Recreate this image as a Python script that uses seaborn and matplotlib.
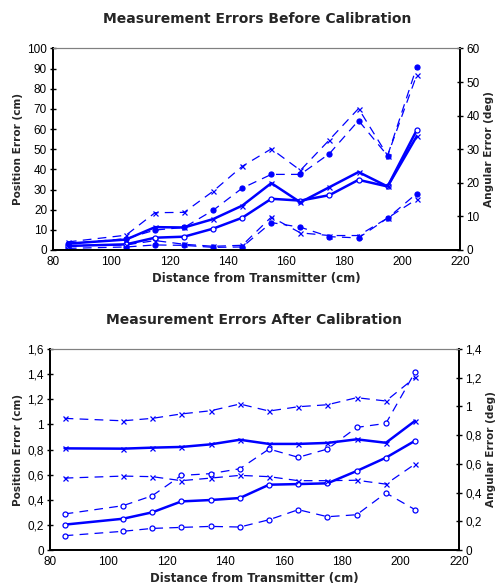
import matplotlib
matplotlib.use("Agg")
import matplotlib.pyplot as plt
import seaborn as sns
import numpy as np
from matplotlib.ticker import FuncFormatter

# distances from transmitter (cm)
distance = [85, 105, 115, 125, 135, 145, 155, 165, 175, 185, 195, 205]

# before calibration - position error (cm), mean and mean +/- std
before_pos = [2.0, 2.8, 6.1, 6.6, 10.6, 16.0, 25.4, 24.5, 27.2, 34.8, 31.5, 59.4]
before_pos_hi = [3.1, 5.6, 9.9, 11.2, 19.7, 30.7, 37.5, 37.5, 47.8, 64.2, 46.8, 90.7]
before_pos_lo = [0.8, 1.5, 2.5, 2.3, 1.3, 1.5, 13.6, 11.3, 6.6, 6.0, 15.8, 28.0]

# before calibration - angular error (deg)
before_ang = [1.9, 3.1, 6.8, 6.7, 9.2, 13.2, 19.9, 14.2, 18.7, 23.2, 18.9, 33.8]
before_ang_hi = [2.4, 4.4, 11.1, 11.2, 17.5, 24.9, 30.1, 23.7, 32.8, 42.1, 28.1, 52.0]
before_ang_lo = [1.3, 1.5, 2.8, 1.7, 1.1, 1.4, 9.8, 5.1, 4.3, 4.3, 9.5, 15.1]

# after calibration - position error (cm)
after_pos = [0.202, 0.249, 0.30, 0.387, 0.398, 0.414, 0.52, 0.525, 0.531, 0.629, 0.735, 0.870]
after_pos_hi = [0.287, 0.353, 0.432, 0.594, 0.608, 0.647, 0.804, 0.738, 0.804, 0.976, 1.008, 1.417]
after_pos_lo = [0.114, 0.149, 0.172, 0.180, 0.188, 0.183, 0.241, 0.321, 0.265, 0.281, 0.454, 0.321]

# after calibration - angular error (deg)
after_ang = [0.708, 0.706, 0.713, 0.718, 0.736, 0.768, 0.739, 0.739, 0.746, 0.771, 0.747, 0.900]
after_ang_hi = [0.917, 0.900, 0.917, 0.948, 0.970, 1.017, 0.968, 0.998, 1.012, 1.061, 1.038, 1.202]
after_ang_lo = [0.501, 0.515, 0.511, 0.483, 0.501, 0.520, 0.511, 0.483, 0.483, 0.486, 0.459, 0.599]

BLUE = "#0000ff"
DASH = (0, (7, 5))
BOLD_FONT = ["DejaVu Sans"]

sns.set_style("white")
plt.rcParams["font.family"] = ["Liberation Sans", "DejaVu Sans"]

fig = plt.figure(figsize=(5.03, 5.86), dpi=100)


def draw(ax, y, marker, solid, filled=False):
    kw = dict(color=BLUE, marker=marker, markersize=3.6,
              markeredgecolor=BLUE, markeredgewidth=0.9,
              markerfacecolor=BLUE if filled else "white")
    if solid:
        kw.update(linewidth=1.8, linestyle="-")
    else:
        kw.update(linewidth=0.9, linestyle=DASH)
    sns.lineplot(x=distance, y=y, ax=ax, **kw)


def style_axes(ax, ax2, title, ylim_l, yticks_l, ylim_r, yticks_r, comma=False):
    ax.set_xlim(80, 220)
    ax.set_xticks(range(80, 221, 20))
    ax.set_ylim(*ylim_l)
    ax.set_yticks(yticks_l)
    ax2.set_ylim(*ylim_r)
    ax2.set_yticks(yticks_r)
    if comma:
        fmt = FuncFormatter(lambda v, p: f"{v:g}".replace(".", ","))
        ax.yaxis.set_major_formatter(fmt)
        ax2.yaxis.set_major_formatter(fmt)
    ax.set_xlabel("Distance from Transmitter (cm)", fontsize=8.5, fontweight="bold",
                  family=BOLD_FONT, labelpad=3)
    ax.set_ylabel("Position Error (cm)", fontsize=7.6, fontweight="bold",
                  family=BOLD_FONT, labelpad=3)
    ax2.set_ylabel("Angular Error (deg)", fontsize=7.6, fontweight="bold",
                   family=BOLD_FONT, labelpad=3)
    ax.set_title(title, fontsize=10, fontweight="bold", family=BOLD_FONT, pad=18)
    for a in (ax, ax2):
        a.tick_params(direction="inout", length=5, width=1, labelsize=8.5, pad=2, colors="black")
        for s in ("left", "right", "bottom"):
            a.spines[s].set_color("black")
            a.spines[s].set_linewidth(1.3)
        a.spines["top"].set_color("#808080")
        a.spines["top"].set_linewidth(0.8)
    ax.tick_params(axis="y", right=False)
    ax2.tick_params(axis="y", left=False)


# before calibration
ax1 = fig.add_axes([0.106, 0.5734, 0.809, 0.344])
ax1r = ax1.twinx()
draw(ax1, before_pos_hi, "o", False, filled=True)
draw(ax1, before_pos_lo, "o", False, filled=True)
draw(ax1, before_pos, "o", True)
draw(ax1r, before_ang_hi, "x", False)
draw(ax1r, before_ang_lo, "x", False)
draw(ax1r, before_ang, "x", True)
style_axes(ax1, ax1r, "Measurement Errors Before Calibration",
           (0, 100), range(0, 101, 10), (0, 60), range(0, 61, 10))

# after calibration
ax2 = fig.add_axes([0.0994, 0.0614, 0.813, 0.343])
ax2r = ax2.twinx()
draw(ax2, after_pos_hi, "o", False)
draw(ax2, after_pos_lo, "o", False)
draw(ax2, after_pos, "o", True)
draw(ax2r, after_ang_hi, "x", False)
draw(ax2r, after_ang_lo, "x", False)
draw(ax2r, after_ang, "x", True)
style_axes(ax2, ax2r, "Measurement Errors After Calibration",
           (0, 1.6), np.arange(0, 1.61, 0.2), (0, 1.4), np.arange(0, 1.41, 0.2), comma=True)

fig.savefig("out.png", dpi=100)
